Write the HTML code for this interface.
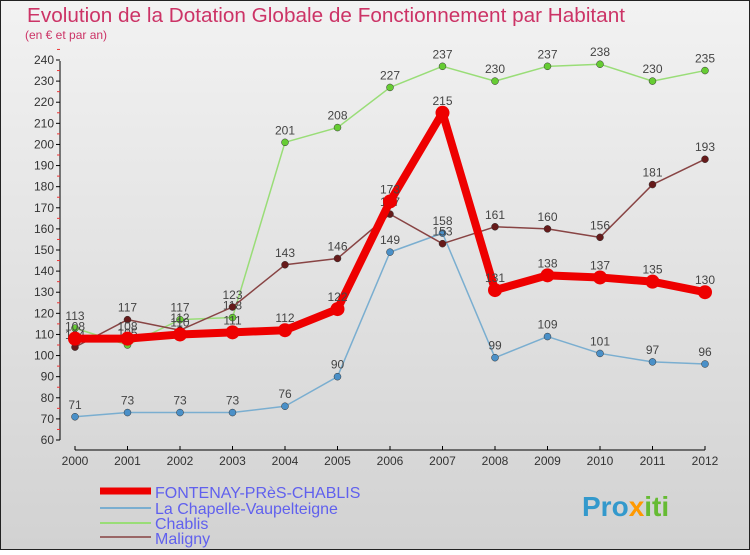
<!DOCTYPE html>
<html><head><meta charset="utf-8"><style>
body{margin:0;width:750px;height:550px;overflow:hidden;font-family:"Liberation Sans",sans-serif}
</style></head><body>
<svg width="750" height="550" xmlns="http://www.w3.org/2000/svg">
<defs><linearGradient id="bg" x1="0" y1="0" x2="0" y2="1"><stop offset="0" stop-color="#f2f2f2"/><stop offset="1" stop-color="#d2d2d2"/></linearGradient></defs>
<rect x="0.5" y="0.5" width="749" height="549" fill="url(#bg)" stroke="#222"/>
<text x="27" y="22" font-size="20" fill="#cc3366" textLength="598" lengthAdjust="spacingAndGlyphs">Evolution de la Dotation Globale de Fonctionnement par Habitant</text>
<text x="25" y="39" font-size="12" fill="#cc3366">(en € et par an)</text>
<g id="axes"></g>
<g id="series"></g>
<g id="legend">
<line x1="100" y1="491" x2="151" y2="491" stroke="#ee0000" stroke-width="7"/>
<text x="155" y="498" font-size="16" fill="#6060ee">FONTENAY-PRèS-CHABLIS</text>
<line x1="100" y1="508" x2="151" y2="508" stroke="#7aaed0" stroke-width="2"/>
<text x="155" y="514" font-size="16" fill="#6060ee">La Chapelle-Vaupelteigne</text>
<line x1="100" y1="523" x2="151" y2="523" stroke="#99dd77" stroke-width="2"/>
<text x="155" y="529" font-size="16" fill="#6060ee">Chablis</text>
<line x1="100" y1="537" x2="151" y2="537" stroke="#996666" stroke-width="2"/>
<text x="155" y="544" font-size="16" fill="#6060ee">Maligny</text>
</g>
<text x="582" y="516" font-size="28" font-weight="bold" fill="#3399cc">Pro<tspan fill="#ff9900">x</tspan><tspan fill="#66bb33">iti</tspan></text>
</svg>
<script>
const years=[2000,2001,2002,2003,2004,2005,2006,2007,2008,2009,2010,2011,2012];
const fontenay=[108,108,110,111,112,122,173,215,131,138,137,135,130];
const chapelle=[71,73,73,73,76,90,149,158,99,109,101,97,96];
const chablis=[113,105,117,118,201,208,227,237,230,237,238,230,235];
const maligny=[104,117,112,123,143,146,167,153,161,160,156,181,193];
const yTicks=[60,70,80,90,100,110,120,130,140,150,160,170,180,190,200,210,220,230,240];
const NS="http://www.w3.org/2000/svg";
function x(i){return 75+i*52.5;}
function y(v){return 440-(v-60)*380/180;}
function mk(t,a,p){const e=document.createElementNS(NS,t);for(const k in a)e.setAttribute(k,a[k]);p.appendChild(e);return e;}
const ax=document.getElementById('axes');
const yl=mk('line',{x1:60,y1:61,x2:60,y2:440,stroke:'#000'},ax);


yTicks.forEach(v=>{
  mk('line',{x1:56,y1:y(v),x2:60,y2:y(v),stroke:'#000'},ax);
  mk('line',{x1:57,y1:y(v+5),x2:60,y2:y(v+5),stroke:'#e33'},ax);
  const t=mk('text',{x:54,y:y(v)+4,'font-size':12,fill:'#333','text-anchor':'end'},ax);t.textContent=v;
  
  
});
const xl=mk('line',{x1:75,y1:450,x2:705,y2:450,stroke:'#000'},ax);


years.forEach((yr,i)=>{
  mk('line',{x1:x(i),y1:446,x2:x(i),y2:450,stroke:'#000'},ax);
  const t=mk('text',{x:x(i),y:465,'font-size':12,fill:'#333','text-anchor':'middle'},ax);t.textContent=yr;
  
  
});
const sg=document.getElementById('series');
function series(data,color,dot,w,r,name){
  const g=mk('g',{},sg);
  
  
  const pl=mk('polyline',{points:data.map((v,i)=>x(i)+','+y(v)).join(' '),fill:'none',stroke:color,'stroke-width':w,'stroke-linejoin':'round'},g);
  
  
  data.forEach((v,i)=>{
    const c=mk('circle',{cx:x(i),cy:y(v),r:r,fill:dot,stroke:w>3?dot:'#333','stroke-width':w>3?0:0.5},g);
    
    
    const t=mk('text',{x:x(i),y:y(v)-8,'font-size':12,fill:'#444','text-anchor':'middle'},g);t.textContent=v;
    
    
  });
}
series(chapelle,'#7aaed0','#4a90c8',1.5,3.5,'chapelle');
series(chablis,'#99dd77','#66cc33',1.5,3.5,'chablis');
series(maligny,'#884444','#661a1a',1.5,3.5,'maligny');
series(fontenay,'#ee0000','#ee0000',8,7,'fontenay');
</script>
</body></html>
